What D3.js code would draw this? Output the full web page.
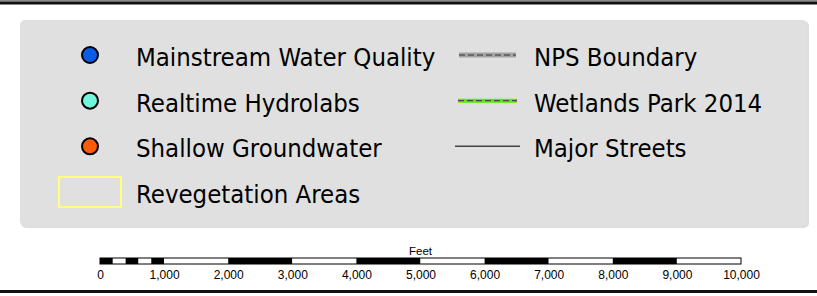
<!DOCTYPE html>
<html>
<head>
<meta charset="utf-8">
<script src="https://cdn.jsdelivr.net/npm/d3@7"></script>
<style>
  html, body { margin: 0; padding: 0; background: #fff; }
  svg { display: block; }
</style>
</head>
<body>
<div id="chart"></div>
<script>
// legend entries
const pointLabels = ["Mainstream Water Quality", "Realtime Hydrolabs", "Shallow Groundwater"];
const pointColors = ["#0a5ce6", "#72f5dc", "#ff5a0a"];
const lineLabels = ["NPS Boundary", "Wetlands Park 2014", "Major Streets"];
const areaLabels = ["Revegetation Areas"];

// scale bar (feet)
const scaleTicks = [0, 1000, 2000, 3000, 4000, 5000, 6000, 7000, 8000, 9000, 10000];
const minorTicks = [0, 200, 400, 600, 800, 1000];
const scaleUnit = "Feet";

const width = 817, height = 296;
const font = "'DejaVu Sans Condensed', 'DejaVu Sans', Verdana, sans-serif";

const svg = d3.select("#chart").append("svg")
    .attr("width", width)
    .attr("height", height);

// map frame remnants top / bottom
svg.append("rect").attr("x", 0).attr("y", 0).attr("width", width).attr("height", 1.5).attr("fill", "#8a8a8a");
svg.append("rect").attr("x", 0).attr("y", 1.5).attr("width", width).attr("height", 3).attr("fill", "#111");
svg.append("rect").attr("x", 0).attr("y", 290).attr("width", width).attr("height", 3).attr("fill", "#111");

// legend box with a soft shadow
svg.append("rect")
    .attr("x", 21).attr("y", 21).attr("width", 788).attr("height", 207)
    .attr("rx", 5).attr("fill", "#c8c8c8").attr("opacity", 0.6);
svg.append("rect")
    .attr("x", 20).attr("y", 20).attr("width", 787).attr("height", 206)
    .attr("rx", 5).attr("fill", "#e0e0e0");

const rowY = d3.scalePoint()
    .domain(d3.range(4))
    .range([55, 192]);

const fs = 25.5;

// point symbols
const pts = svg.append("g").selectAll("g")
    .data(pointLabels)
    .join("g")
    .attr("transform", (d, i) => `translate(0,${rowY(i)})`);

pts.append("circle")
    .attr("cx", 90)
    .attr("r", 8)
    .attr("fill", (d, i) => pointColors[i])
    .attr("stroke", "#000")
    .attr("stroke-width", 2);

pts.append("text")
    .attr("x", 136)
    .attr("y", 11)
    .attr("font-family", font)
    .attr("font-size", fs)
    .attr("fill", "#000")
    .text(d => d);

// area symbol
const area = svg.append("g").selectAll("g")
    .data(areaLabels)
    .join("g")
    .attr("transform", (d, i) => `translate(0,${rowY(pointLabels.length + i)})`);

area.append("rect")
    .attr("x", 59).attr("y", -15).attr("width", 62).attr("height", 30)
    .attr("fill", "none")
    .attr("stroke", "#ffff80")
    .attr("stroke-width", 2);

area.append("text")
    .attr("x", 136)
    .attr("y", 11)
    .attr("font-family", font)
    .attr("font-size", fs)
    .attr("fill", "#000")
    .text(d => d);

// line symbols
const lineStyles = [
  {under: "#a3a3a3", underW: 5, over: "#5a5a5a", overW: 1.5, dash: "6,3", x0: 459, x1: 516},
  {under: "#55ee00", underW: 4, over: "#4a4a4a", overW: 1.2, dash: "6,3", x0: 458, x1: 517},
  {under: null, underW: 0, over: "#444", overW: 1.5, dash: null, x0: 455, x1: 520}
];

const lns = svg.append("g").selectAll("g")
    .data(lineLabels)
    .join("g")
    .attr("transform", (d, i) => `translate(0,${rowY(i)})`);

lns.each(function (d, i) {
  const s = lineStyles[i];
  const g = d3.select(this);
  if (s.under) {
    g.append("line").attr("x1", s.x0).attr("x2", s.x1)
        .attr("stroke", s.under).attr("stroke-width", s.underW);
  }
  g.append("line").attr("x1", s.x0).attr("x2", s.x1)
      .attr("stroke", s.over).attr("stroke-width", s.overW)
      .attr("stroke-dasharray", s.dash);
});

lns.append("text")
    .attr("x", 534)
    .attr("y", 11)
    .attr("font-family", font)
    .attr("font-size", fs)
    .attr("fill", "#000")
    .text(d => d);

// scale bar
const x = d3.scaleLinear().domain([0, 10000]).range([100, 741]);
const barY = 258, barH = 6;

const segs = [];
for (let i = 0; i < minorTicks.length - 1; i++) segs.push([minorTicks[i], minorTicks[i + 1], i % 2 === 0]);
for (let i = 1; i < scaleTicks.length - 1; i++) segs.push([scaleTicks[i], scaleTicks[i + 1], i % 2 === 0]);

const bar = svg.append("g");
bar.selectAll("rect")
    .data(segs)
    .join("rect")
    .attr("x", d => x(d[0]))
    .attr("y", barY)
    .attr("width", d => x(d[1]) - x(d[0]))
    .attr("height", barH)
    .attr("fill", d => d[2] ? "#000" : "#fff");
bar.append("rect")
    .attr("x", x(0)).attr("y", barY)
    .attr("width", x(10000) - x(0)).attr("height", barH)
    .attr("fill", "none").attr("stroke", "#000").attr("stroke-width", 1);

const axis = d3.axisBottom(x)
    .tickValues(scaleTicks)
    .tickSize(0)
    .tickPadding(0)
    .tickFormat(d3.format(","));

svg.append("g")
    .attr("transform", `translate(0,${barY + barH + 6})`)
    .call(axis)
    .call(g => g.select(".domain").remove())
    .call(g => g.selectAll("text")
        .attr("font-family", "'Liberation Sans', Arial, sans-serif")
        .attr("font-size", 12)
        .attr("fill", "#000"));

svg.append("text")
    .attr("x", x(5000))
    .attr("y", barY - 3)
    .attr("text-anchor", "middle")
    .attr("font-family", "'Liberation Sans', Arial, sans-serif")
    .attr("font-size", 11.5)
    .attr("fill", "#000")
    .text(scaleUnit);
</script>
</body>
</html>
